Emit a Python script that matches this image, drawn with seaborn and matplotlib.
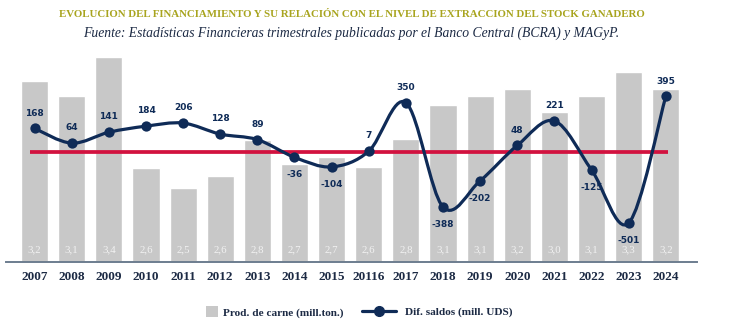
import numpy as np
import pandas as pd
import matplotlib
matplotlib.use("Agg")
import matplotlib.pyplot as plt
from matplotlib.path import Path
from matplotlib.patches import PathPatch, Patch
from matplotlib.lines import Line2D
import seaborn as sns

# ---- data ----
years = ["2007", "2008", "2009", "2010", "2011", "2012", "2013", "2014", "2015",
         "20116", "2017", "2018", "2019", "2020", "2021", "2022", "2023", "2024"]
prod_carne = [3.22, 3.12, 3.38, 2.63, 2.50, 2.58, 2.82, 2.66, 2.71,
              2.64, 2.83, 3.06, 3.12, 3.17, 3.01, 3.12, 3.28, 3.17]
dif_saldos = [168, 64, 141, 184, 206, 128, 89, -36, -104,
              7, 350, -388, -202, 48, 221, -125, -501, 395]

title = "EVOLUCION DEL FINANCIAMIENTO Y SU RELACIÓN CON EL NIVEL DE EXTRACCION DEL STOCK GANADERO"
subtitle = "Fuente: Estadísticas Financieras trimestrales publicadas por el Banco Central (BCRA) y MAGyP."
legend_bar = "Prod. de carne (mill.ton.)"
legend_line = "Dif. saldos (mill. UDS)"

# ---- style ----
BAR = "#c8c8c8"
NAVY = "#0f2b57"
RED = "#d2123f"
OLIVE = "#a8a41e"
TXT = "#1c2a44"

sns.set_theme(style="white")
plt.rcParams["font.family"] = ["DejaVu Sans"]

fig = plt.figure(figsize=(7.3, 3.27), dpi=100)
ax = fig.add_axes([0.0082, 0.1997, 0.9466, 0.6413])

df = pd.DataFrame({"year": years, "prod": prod_carne})
sns.barplot(data=df, x="year", y="prod", color=BAR, saturation=1, width=0.73, ax=ax, zorder=1)
ax.set_xlim(-0.77, 17.84)
ax.set_ylim(2.0, 3.417)
ax.set_xlabel("")
ax.set_ylabel("")
ax.set_yticks([])
for s in ["top", "right", "left"]:
    ax.spines[s].set_visible(False)
ax.spines["bottom"].set_color("#6d7d8f")
ax.spines["bottom"].set_linewidth(1.4)
ax.tick_params(axis="x", length=0, pad=7)
for lab in ax.get_xticklabels():
    lab.set_fontfamily("Liberation Serif")
    lab.set_fontweight("bold")
    lab.set_fontsize(9.5)
    lab.set_color(TXT)

trans = matplotlib.transforms.blended_transform_factory(ax.transData, ax.transAxes)
for i, v in enumerate(prod_carne):
    ax.text(i, 0.056, f"{v:.1f}".replace(".", ","), transform=trans, ha="center", va="center",
            fontsize=7.8, color="#f2f2f2", family="Liberation Serif")

# ---- line on twin axis ----
ax2 = ax.twinx()
ax2.set_ylim(-774.4, 708.6)
ax2.set_yticks([])
for s in ax2.spines.values():
    s.set_visible(False)

ax2.hlines(0, -0.13, 17.06, color=RED, lw=2.7, zorder=1)

xs = np.arange(len(dif_saldos), dtype=float)
ys = np.array(dif_saldos, dtype=float)
pts = np.column_stack([xs, ys])
ext = np.vstack([pts[0], pts, pts[-1]])
verts = [tuple(pts[0])]
codes = [Path.MOVETO]
for i in range(len(pts) - 1):
    p0, p1, p2, p3 = ext[i], ext[i + 1], ext[i + 2], ext[i + 3]
    c1 = p1 + (p2 - p0) / 6.0
    c2 = p2 - (p3 - p1) / 6.0
    verts += [tuple(c1), tuple(c2), tuple(p2)]
    codes += [Path.CURVE4] * 3
ax2.add_patch(PathPatch(Path(verts, codes), facecolor="none", edgecolor=NAVY, lw=2.3, zorder=2))
sns.scatterplot(x=xs, y=ys, color=NAVY, s=55, edgecolor=NAVY, linewidth=0, ax=ax2, zorder=3)

for x, v in zip(xs, dif_saldos):
    off = 11 if v >= 0 else -12.5
    ax2.annotate(str(v), (x, v), xytext=(0, off), textcoords="offset points",
                 ha="center", va="center", fontsize=6.5, fontweight="bold", color=NAVY,
                 family="DejaVu Sans")

# ---- titles ----
fig.text(0.4815, 0.957, title, ha="center", va="center", fontsize=7.8, fontweight="bold",
         color=OLIVE, family="Liberation Serif")
fig.text(0.4815, 0.899, subtitle, ha="center", va="center", fontsize=9.8, style="italic",
         color=TXT, family="Liberation Serif")

# ---- legend ----
leg1 = fig.legend(handles=[Patch(facecolor=BAR, edgecolor="none", label=legend_bar)],
                  loc="center left", bbox_to_anchor=(0.268, 0.046), frameon=False,
                  handlelength=1.1, handleheight=1.1, handletextpad=0.4,
                  prop={"family": "Liberation Serif", "weight": "bold", "size": 8.1})
for t in leg1.get_texts():
    t.set_color(TXT)
leg2 = fig.legend(handles=[Line2D([], [], color=NAVY, lw=2.3, marker="o", markersize=7, label=legend_line)],
                  loc="center left", bbox_to_anchor=(0.482, 0.046), frameon=False,
                  handlelength=3.0, handletextpad=0.8,
                  prop={"family": "Liberation Serif", "weight": "bold", "size": 8.1})
for t in leg2.get_texts():
    t.set_color(TXT)

fig.savefig("out.png", dpi=100)
